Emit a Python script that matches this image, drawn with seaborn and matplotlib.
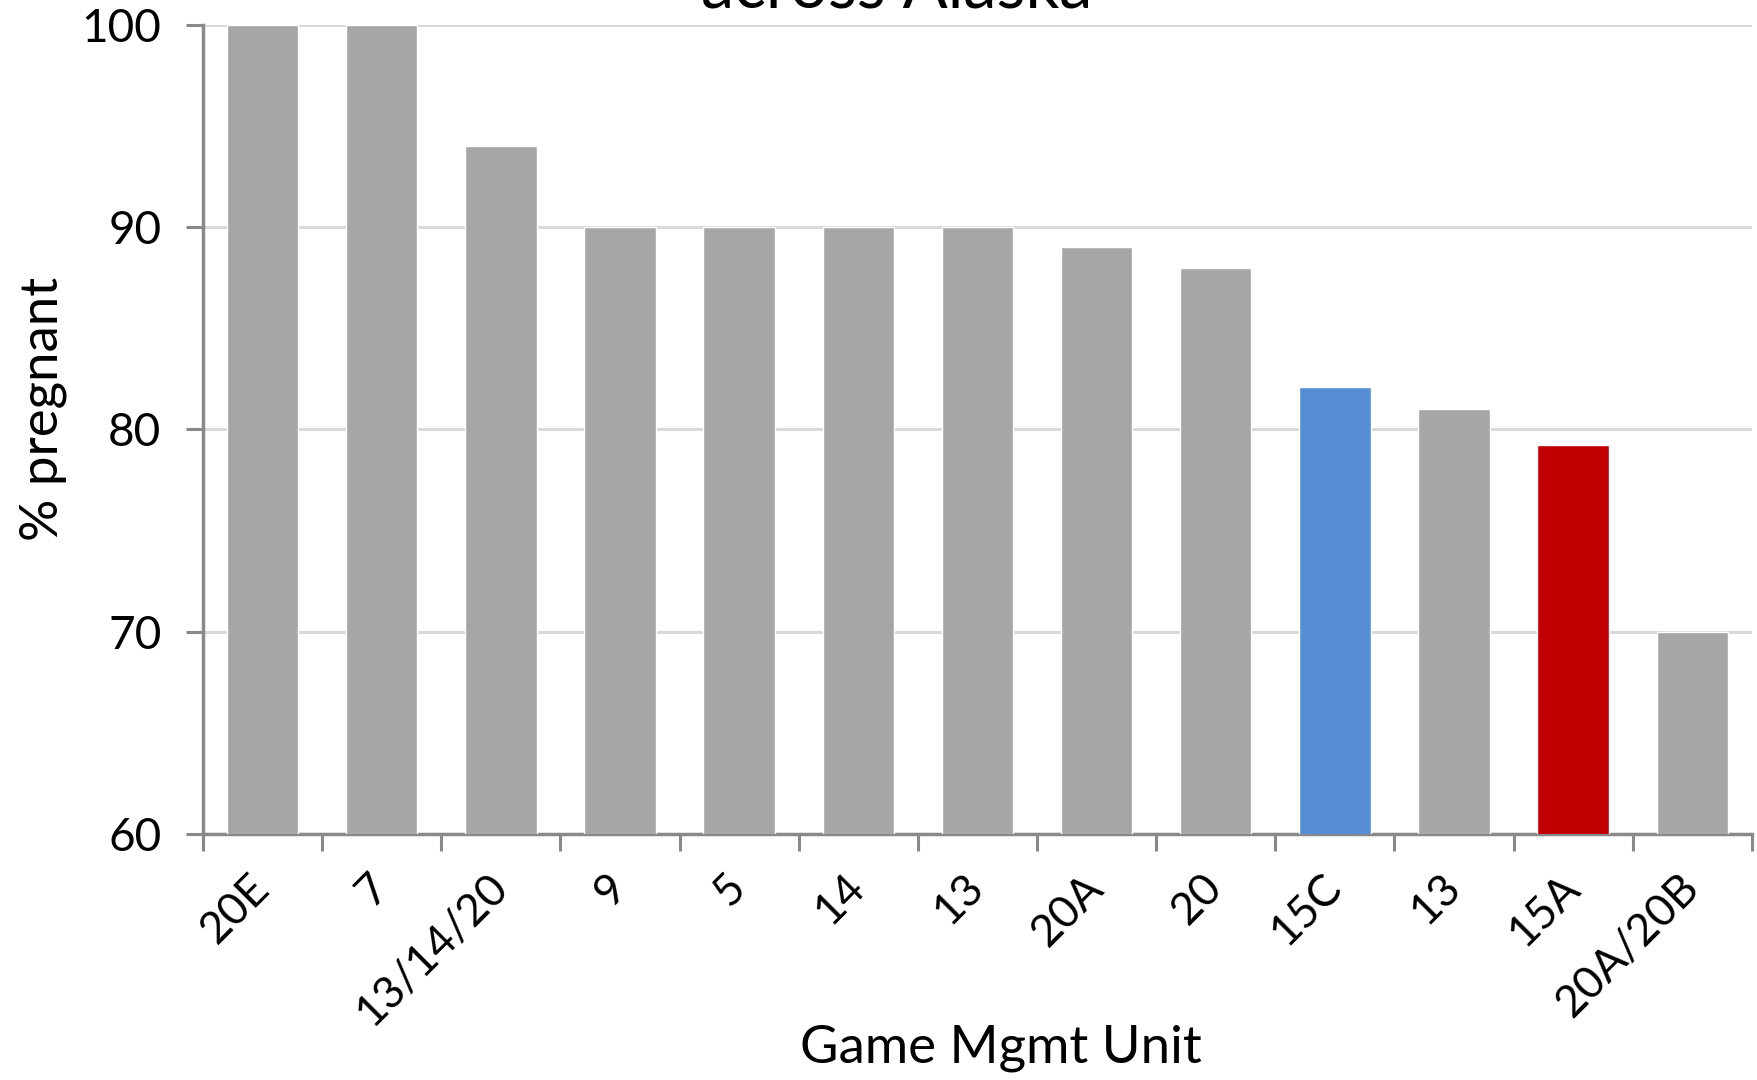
import numpy as np
import pandas as pd
import seaborn as sns
import matplotlib.pyplot as plt

units = ["20E", "7", "13/14/20", "9", "5", "14", "13", "20A", "20", "15C", "13", "15A", "20A/20B"]
pct_pregnant = [100, 100, 94, 90, 90, 90, 90, 89, 88, 82.1, 81, 79.2, 70]
highlight = ["other"] * 9 + ["15C"] + ["other"] + ["15A"] + ["other"]
colors = {"other": "#a6a6a6", "15C": "#558ed5", "15A": "#c00000"}

df = pd.DataFrame({"unit": units, "pct": pct_pregnant, "group": highlight})
df["pos"] = range(len(df))  # duplicate unit names, so plot by position

sns.set_style("white")
plt.rcParams["font.family"] = ["Lato", "DejaVu Sans"]
plt.rcParams["text.color"] = "black"
plt.rcParams["axes.labelcolor"] = "black"
plt.rcParams["xtick.color"] = "black"
plt.rcParams["ytick.color"] = "black"

fig = plt.figure(figsize=(17.58, 10.8), dpi=100)
ax = fig.add_axes([0.1155, 0.228, 0.881, 0.749])

sns.barplot(data=df, x="pos", y="pct", hue="group", palette=colors, dodge=False,
            width=0.6, saturation=1, legend=False, ax=ax, order=list(range(len(df))), zorder=3)

ax.set_ylim(60, 100)
ax.set_xlim(-0.5, len(df) - 0.5)
ax.set_yticks([60, 70, 80, 90, 100])
ax.set_xticks(range(len(df)))
ax.set_xticklabels(units, rotation=45, ha="right", va="center", rotation_mode="anchor")
ax.set_xticks(np.arange(-0.5, len(df), 1), minor=True)
ax.tick_params(axis="x", which="major", bottom=True, length=0, pad=34, labelsize=32)
ax.tick_params(axis="x", which="minor", bottom=True, length=12, width=2.2, color="#898989", direction="out")
ax.tick_params(axis="y", left=True, length=12, width=2.2, color="#898989", direction="out", labelsize=33, pad=18)

ax.grid(axis="y", color="#d9d9d9", linewidth=2.2, zorder=0)
ax.set_axisbelow(True)
for s in ["top", "right"]:
    ax.spines[s].set_visible(False)
for s in ["left", "bottom"]:
    ax.spines[s].set_color("#898989")
    ax.spines[s].set_linewidth(2.5)

ax.set_ylabel("% pregnant", fontsize=38, va="center")
ax.yaxis.set_label_coords(-0.103, 0.525)
ax.set_xlabel("Game Mgmt Unit", fontsize=38, va="center")
ax.xaxis.set_label_coords(0.515, -0.265)

# title sits mostly off the top of the picture, as in the source
fig.text(0.51, 1 - 8 / 1080, "across Alaska", ha="center", va="baseline", fontsize=48)

fig.savefig("out.png", dpi=100)
